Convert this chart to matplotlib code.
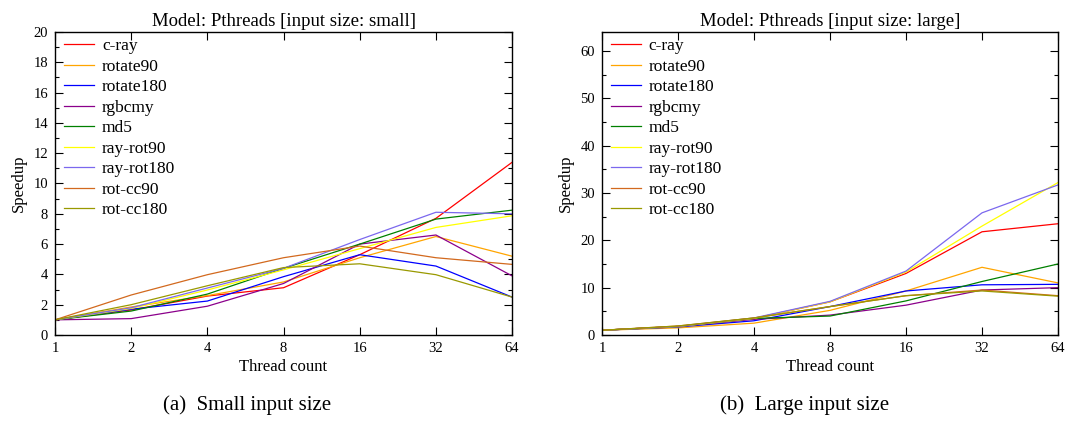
"""Pthreads speedup vs thread count, small and large input sizes."""
import matplotlib.pyplot as plt
from matplotlib.ticker import MultipleLocator, FixedLocator, FixedFormatter

plt.rcParams["font.family"] = ["Liberation Serif", "DejaVu Serif"]

threads = [1, 2, 4, 8, 16, 32, 64]
names = ["c-ray", "rotate90", "rotate180", "rgbcmy", "md5",
         "ray-rot90", "ray-rot180", "rot-cc90", "rot-cc180"]
colors = ["#ff0000", "#ffa500", "#0000ff", "#8b008b", "#008000",
          "#ffff00", "#7b68ee", "#d2691e", "#999900"]

small = {
    "c-ray":      [1, 1.65, 2.57, 3.12, 5.3, 7.7, 11.4],
    "rotate90":   [1, 1.85, 2.6, 3.5, 5.1, 6.5, 5.2],
    "rotate180":  [1, 1.7, 2.24, 3.85, 5.3, 4.55, 2.5],
    "rgbcmy":     [1, 1.08, 1.9, 3.4, 6.0, 6.6, 3.9],
    "md5":        [1, 1.58, 2.7, 4.4, 6.0, 7.65, 8.24],
    "ray-rot90":  [1, 1.75, 2.97, 4.3, 5.7, 7.1, 7.87],
    "ray-rot180": [1, 1.8, 3.1, 4.4, 6.3, 8.1, 8.0],
    "rot-cc90":   [1, 2.64, 3.98, 5.1, 5.87, 5.1, 4.66],
    "rot-cc180":  [1, 2.0, 3.25, 4.45, 4.7, 3.98, 2.5],
}

large = {
    "c-ray":      [1, 1.8, 3.5, 7.0, 13.0, 21.8, 23.5],
    "rotate90":   [1, 1.5, 2.5, 5.2, 9.3, 14.3, 11.0],
    "rotate180":  [1, 1.7, 3.0, 6.0, 9.3, 10.6, 10.7],
    "rgbcmy":     [1, 1.8, 3.3, 4.2, 6.3, 9.5, 10.0],
    "md5":        [1, 1.8, 3.5, 4.0, 7.2, 11.3, 15.0],
    "ray-rot90":  [1, 1.8, 3.5, 7.0, 13.3, 23.0, 32.2],
    "ray-rot180": [1, 1.8, 3.6, 7.1, 13.5, 25.8, 31.7],
    "rot-cc90":   [1, 1.9, 3.6, 6.0, 8.3, 9.5, 8.3],
    "rot-cc180":  [1, 1.9, 3.6, 6.0, 8.3, 9.3, 8.2],
}

fig = plt.figure(figsize=(10.66, 4.21), dpi=100)
ax1 = fig.add_axes([0.0516, 0.2043, 0.4288, 0.7197])
ax2 = fig.add_axes([0.5647, 0.2043, 0.4278, 0.7197])

# caption x position (axes fraction) differs a little per panel
panels = [
    (ax1, small, "Model: Pthreads [input size: small]", 20, 2, 1,
     "(a)  Small input size", 0.42),
    (ax2, large, "Model: Pthreads [input size: large]", 64, 10, 5,
     "(b)  Large input size", 0.445),
]

for ax, data, title, ymax, major, minor, caption, cx in panels:
    for name, col in zip(names, colors):
        ax.plot(threads, data[name], color=col, lw=0.9, label=name)
    ax.set_xscale("log", base=2)
    ax.set_xlim(1, 64)
    ax.set_ylim(0, ymax)
    ax.xaxis.set_major_locator(FixedLocator(threads))
    ax.xaxis.set_major_formatter(FixedFormatter([str(t) for t in threads]))
    ax.xaxis.set_minor_locator(FixedLocator([]))
    ax.yaxis.set_major_locator(MultipleLocator(major))
    ax.yaxis.set_minor_locator(MultipleLocator(minor))
    ax.tick_params(which="both", direction="in", top=True, right=True,
                   labelsize=10.5, width=0.8)
    ax.tick_params(which="major", length=6, pad=5)
    ax.tick_params(which="minor", length=3)
    for s in ax.spines.values():
        s.set_linewidth(1.0)
    ax.set_title(title, fontsize=13.5, pad=4)
    ax.set_xlabel("Thread count", fontsize=12, labelpad=3)
    ax.set_ylabel("Speedup", fontsize=12, labelpad=5)
    ax.legend(loc="upper left", bbox_to_anchor=(0.0, 1.008), frameon=False,
              fontsize=12.5, handlelength=1.75, handletextpad=0.45,
              labelspacing=0.25, borderpad=0.1, borderaxespad=0.4)
    ax.text(cx, -0.233, caption, transform=ax.transAxes, ha="center",
            va="center", fontsize=15)

fig.savefig("out.png", dpi=100)
